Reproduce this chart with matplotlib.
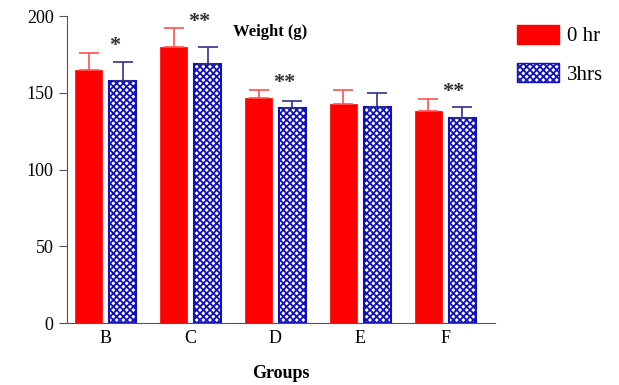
import numpy as np
import matplotlib.pyplot as plt
from matplotlib.patches import Patch

plt.rcParams['font.family'] = ['Liberation Serif', 'DejaVu Serif']
plt.rcParams['hatch.linewidth'] = 1.3

groups = ['B', 'C', 'D', 'E', 'F']
hr0 = [165, 180, 146.5, 143, 138]
hr0_err = [11, 12, 5.5, 9, 8]
hr3 = [158, 169, 140, 141, 133.5]
hr3_err = [12, 11, 5, 9, 7.5]
stars = ['*', '**', '**', '', '**']

fig = plt.figure(figsize=(6.19, 3.85), dpi=100)
ax = fig.add_axes([0.108, 0.161, 0.692, 0.797])

x = np.arange(len(groups))
w = 0.32
ax.bar(x - 0.2, hr0, w, color='#ff0000', edgecolor='#ff0000', linewidth=0.5,
       yerr=[np.zeros(5), hr0_err], error_kw=dict(ecolor='#ff5050', capsize=7, elinewidth=1.2, capthick=1.2))
ax.bar(x + 0.2, hr3, w, color='white', edgecolor='#1010c0', hatch='xxxxx', linewidth=1.5,
       yerr=[np.zeros(5), hr3_err], error_kw=dict(ecolor='#303090', capsize=7, elinewidth=1.2, capthick=1.2))

for i, s in enumerate(stars):
    if s:
        top = max(hr0[i] + hr0_err[i], hr3[i] + hr3_err[i])
        ax.text(x[i] + 0.1, top - 2, s, ha='center', va='bottom', fontsize=16, fontweight='bold', color='#333333')

ax.set_xlim(-0.46, 4.59)
ax.set_ylim(0, 200)
ax.set_yticks([0, 50, 100, 150, 200])
ax.set_xticks(x)
ax.set_xticklabels(groups)
ax.tick_params(labelsize=13, length=6, color='#555555')
ax.tick_params(axis='x', length=0, pad=5)
for sp in ['top', 'right']:
    ax.spines[sp].set_visible(False)
for sp in ['left', 'bottom']:
    ax.spines[sp].set_color('#555555')

ax.text(0.475, 0.948, 'Weight (g)', transform=ax.transAxes, ha='center', va='center',
        fontsize=12, fontweight='bold')
ax.set_xlabel('Groups', fontsize=13, fontweight='bold', labelpad=13)

handles = [Patch(facecolor='#ff0000', edgecolor='#ff0000'),
           Patch(facecolor='white', edgecolor='#1010c0', hatch='xxxxx')]
fig.legend(handles, ['0 hr', '3hrs'], loc='upper left', bbox_to_anchor=(0.835, 0.935),
           frameon=False, fontsize=15, handlelength=2.0, handleheight=1.0, labelspacing=0.8,
           borderpad=0, borderaxespad=0, handletextpad=0.4)

fig.savefig('out.png', dpi=100)
